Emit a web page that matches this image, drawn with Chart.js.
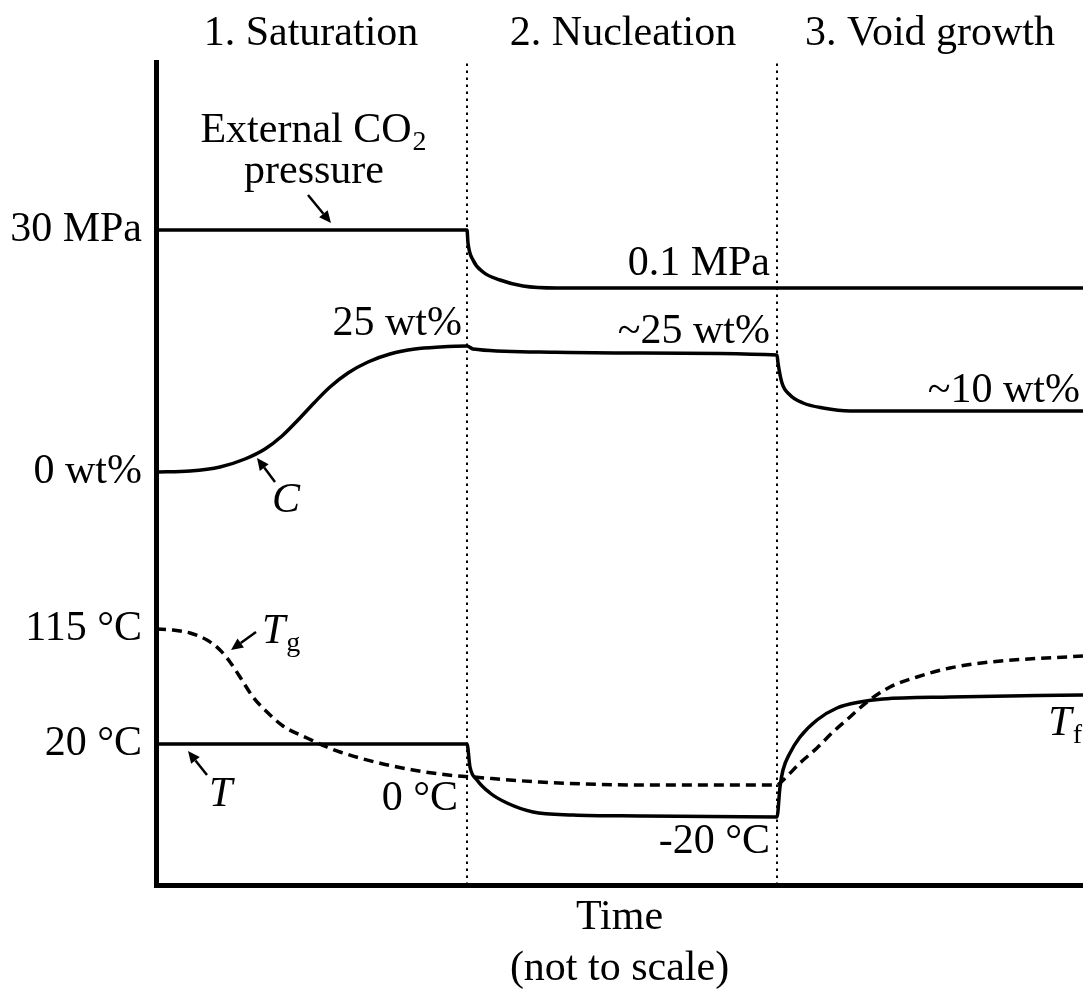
<!DOCTYPE html>
<html lang="en">
<head>
<meta charset="UTF-8">
<title>Foaming stages</title>
<script src="https://cdn.jsdelivr.net/npm/chart.js"></script>
<style>
  html, body { margin: 0; padding: 0; background: #fff; }
  #wrap { width: 1083px; height: 994px; }
</style>
</head>
<body>
<div id="wrap"><canvas id="stageChart"></canvas></div>
<script>
// schematic units: x = time (not to scale), y = level (not to scale)
const phaseEdges = [311, 621];

const pressureX = [0, 311, 312, 317, 327, 344, 367, 401, 484, 700, 927];
const pressureY = [655, 655, 642, 625, 613, 605, 599, 597, 597, 597, 597];

const concX = [0, 34, 64, 89, 109, 126, 142, 158, 174, 192, 212, 234, 259, 284, 311, 317, 384, 484, 621, 622, 626, 634, 647, 667, 694, 794, 927];
const concY = [413, 414, 418, 426, 436, 449, 465, 482, 498, 512, 523, 531, 536, 538, 539, 536, 533, 532, 530, 522, 502, 490, 482, 477, 474, 474, 474];

const tempX = [0, 311, 314, 321, 334, 351, 377, 417, 484, 621, 624, 627, 634, 644, 661, 681, 704, 727, 794, 927];
const tempY = [141, 141, 118, 105, 92, 82, 73, 70, 69, 68, 98, 115, 132, 148, 165, 177, 183, 186, 188, 190];

const tgX = [0, 17, 34, 51, 64, 74, 84, 97, 111, 127, 151, 171, 184, 223, 257, 292, 317, 384, 484, 621, 624, 644, 661, 677, 694, 711, 734, 761, 794, 834, 927];
const tgY = [256, 255, 252, 245, 235, 223, 208, 188, 173, 159, 147, 138, 133, 122, 115, 110, 108, 103, 100, 100, 102, 122, 137, 153, 168, 183, 198, 208, 217, 223, 229];

const tickValues = [141, 256, 413, 655];
const tickLabels = ['20 °C', '115 °C', '0 wt%', '30 MPa'];

const phaseLabels = ['1. Saturation', '2. Nucleation', '3. Void growth'];

const serif = "'Liberation Serif', 'Times New Roman', serif";
const BIG = 42, SMALL = 28;

function pts(xs, ys) { return xs.map((x, i) => ({ x: x, y: ys[i] })); }

// text annotations (data coords of anchor / baseline)
const notes = [
  { parts: [{ t: phaseLabels[0] }], x: 155, y: 840, align: 'center' },
  { parts: [{ t: phaseLabels[1] }], x: 467, y: 840, align: 'center' },
  { parts: [{ t: phaseLabels[2] }], x: 774, y: 840, align: 'center' },
  { parts: [{ t: 'External CO' }, { t: '2', sub: true }], x: 157, y: 743, align: 'center' },
  { parts: [{ t: 'pressure' }], x: 158, y: 702, align: 'center' },
  { parts: [{ t: '25 wt%' }], x: 306, y: 550, align: 'right' },
  { parts: [{ t: '0.1 MPa' }], x: 614, y: 610, align: 'right' },
  { parts: [{ t: '~25 wt%' }], x: 614, y: 542, align: 'right' },
  { parts: [{ t: '~10 wt%' }], x: 924, y: 483, align: 'right' },
  { parts: [{ t: 'C', it: true }], x: 116, y: 373, align: 'left' },
  { parts: [{ t: 'T', it: true }, { t: 'g', sub: true }], x: 106, y: 242, align: 'left' },
  { parts: [{ t: 'T', it: true }], x: 53, y: 79, align: 'left' },
  { parts: [{ t: '0 °C' }], x: 302, y: 75, align: 'right' },
  { parts: [{ t: '-20 °C' }], x: 614, y: 32, align: 'right' },
  { parts: [{ t: 'T', it: true }, { t: 'f', sub: true }], x: 925, y: 150, align: 'right' }
];

// arrows: tail -> head
const arrows = [
  [152, 690, 175, 662],
  [119, 403, 101, 427],
  [100, 253, 75, 235],
  [51, 110, 32, 134]
];

function partFont(p) {
  return (p.it ? 'italic ' : '') + (p.sub ? SMALL : BIG) + 'px ' + serif;
}

const notesPlugin = {
  id: 'notes',
  afterDraw(chart) {
    const ctx = chart.ctx;
    const xs = chart.scales.x, ys = chart.scales.y;
    ctx.save();
    ctx.fillStyle = '#000';
    ctx.strokeStyle = '#000';
    ctx.textBaseline = 'alphabetic';
    ctx.textAlign = 'left';

    notes.forEach(n => {
      let widths = n.parts.map(p => { ctx.font = partFont(p); return ctx.measureText(p.t).width; });
      let total = widths.reduce((a, b) => a + b, 0);
      let px = xs.getPixelForValue(n.x);
      let py = ys.getPixelForValue(n.y);
      if (n.align === 'center') px -= total / 2;
      if (n.align === 'right') px -= total;
      n.parts.forEach((p, i) => {
        ctx.font = partFont(p);
        ctx.fillText(p.t, px + (p.sub ? 1 : 0), py + (p.sub ? 8 : 0));
        px += widths[i];
      });
    });

    ctx.lineWidth = 2.5;
    arrows.forEach(a => {
      const x1 = xs.getPixelForValue(a[0]), y1 = ys.getPixelForValue(a[1]);
      const x2 = xs.getPixelForValue(a[2]), y2 = ys.getPixelForValue(a[3]);
      const ang = Math.atan2(y2 - y1, x2 - x1);
      const hl = 12, hw = 5.5;
      const bx = x2 - hl * Math.cos(ang), by = y2 - hl * Math.sin(ang);
      ctx.beginPath();
      ctx.moveTo(x1, y1);
      ctx.lineTo(bx, by);
      ctx.stroke();
      ctx.beginPath();
      ctx.moveTo(x2, y2);
      ctx.lineTo(bx + hw * Math.sin(ang), by - hw * Math.cos(ang));
      ctx.lineTo(bx - hw * Math.sin(ang), by + hw * Math.cos(ang));
      ctx.closePath();
      ctx.fill();
    });
    ctx.restore();
  }
};

const solid = { borderColor: '#000', borderWidth: 3.5, pointRadius: 0, fill: false, cubicInterpolationMode: 'monotone' };

new Chart(document.getElementById('stageChart'), {
  type: 'line',
  data: {
    datasets: [
      { label: 'divider 1', data: pts([phaseEdges[0], phaseEdges[0]], [0, 823]), borderColor: '#000', borderWidth: 2, borderDash: [2.5, 4.5], pointRadius: 0, order: 5 },
      { label: 'divider 2', data: pts([phaseEdges[1], phaseEdges[1]], [0, 823]), borderColor: '#000', borderWidth: 2, borderDash: [2.5, 4.5], pointRadius: 0, order: 5 },
      Object.assign({ label: 'External CO2 pressure', data: pts(pressureX, pressureY), order: 1 }, solid),
      Object.assign({ label: 'C', data: pts(concX, concY), order: 1 }, solid),
      Object.assign({ label: 'T', data: pts(tempX, tempY), order: 1 }, solid),
      Object.assign({ label: 'Tg', data: pts(tgX, tgY), order: 2 }, solid, { borderDash: [10, 6] })
    ]
  },
  options: {
    responsive: true,
    maintainAspectRatio: false,
    animation: false,
    devicePixelRatio: 1,
    layout: { padding: { top: 62, left: 0, right: 0, bottom: 0 } },
    plugins: { legend: { display: false }, tooltip: { enabled: false } },
    scales: {
      x: {
        type: 'linear', min: 0, max: 927,
        grid: { display: false, drawTicks: false },
        border: { display: true, color: '#000', width: 5 },
        ticks: { display: false },
        title: {
          display: true,
          text: ['Time', '(not to scale)'],
          color: '#000',
          font: { family: serif, size: BIG, lineHeight: 1.2 },
          padding: { top: 0, bottom: 0 }
        },
        afterFit(scale) { scale.height = 109; }
      },
      y: {
        type: 'linear', min: 0, max: 823,
        grid: { display: false, drawTicks: false },
        border: { display: true, color: '#000', width: 5 },
        afterBuildTicks(scale) { scale.ticks = tickValues.map(v => ({ value: v })); },
        ticks: {
          color: '#000',
          padding: 14,
          autoSkip: false,
          font: { family: serif, size: BIG },
          callback: (v) => tickLabels[tickValues.indexOf(v)]
        },
        afterFit(scale) { scale.width = 156; }
      }
    }
  },
  plugins: [notesPlugin]
});
</script>
</body>
</html>
